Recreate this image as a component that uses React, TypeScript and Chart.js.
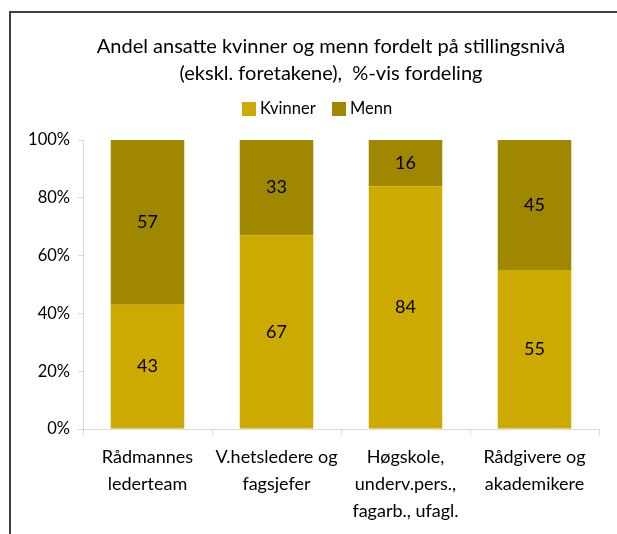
import React, { useEffect, useRef } from "react";
import { Chart, registerables } from "chart.js";

Chart.register(...registerables);

const categories: string[][] = [
  ["Rådmannes", "lederteam"],
  ["V.hetsledere og", "fagsjefer"],
  ["Høgskole,", "underv.pers.,", "fagarb., ufagl."],
  ["Rådgivere og", "akademikere"],
];
const kvinner: number[] = [43, 67, 84, 55];
const menn: number[] = [57, 33, 16, 45];
const yTicks: number[] = [0, 20, 40, 60, 80, 100];
const titleLines: string[] = [
  "Andel ansatte kvinner og menn fordelt på stillingsnivå",
  "(ekskl. foretakene),  %-vis fordeling",
];
const seriesNames: string[] = ["Kvinner", "Menn"];
const seriesColors: string[] = ["#CCAA00", "#9F8700"];

const FONT = "Lato, 'Open Sans', sans-serif";

const valueLabels = {
  id: "valueLabels",
  afterDatasetsDraw(chart: any) {
    const ctx = chart.ctx;
    ctx.save();
    ctx.font = `18px ${FONT}`;
    ctx.fillStyle = "#000";
    ctx.textAlign = "center";
    ctx.textBaseline = "middle";
    chart.data.datasets.forEach((ds: any, i: number) => {
      const meta = chart.getDatasetMeta(i);
      meta.data.forEach((bar: any, j: number) => {
        const { x, y, base } = bar.getProps(["x", "y", "base"], true);
        ctx.fillText(String(ds.data[j]), x, (y + base) / 2);
      });
    });
    ctx.restore();
  },
};

const titleLegend = {
  id: "titleLegend",
  afterDraw(chart: any) {
    const ctx = chart.ctx;
    ctx.save();
    ctx.fillStyle = "#000";
    ctx.textBaseline = "middle";
    ctx.textAlign = "center";
    ctx.font = `20px ${FONT}`;
    titleLines.forEach((t, i) => ctx.fillText(t, 331, 47 + i * 27));
    // legend
    ctx.font = `16.5px ${FONT}`;
    ctx.textAlign = "left";
    const boxXs = [242, 332];
    seriesNames.forEach((n, i) => {
      ctx.fillStyle = seriesColors[i];
      ctx.fillRect(boxXs[i], 102, 14, 14);
      ctx.fillStyle = "#000";
      ctx.fillText(n, boxXs[i] + 18, 109);
    });
    ctx.restore();
  },
};

export default function App() {
  const ref = useRef<HTMLCanvasElement | null>(null);
  useEffect(() => {
    if (!ref.current) return;
    const chart = new Chart(ref.current, {
      type: "bar",
      data: {
        labels: categories,
        datasets: seriesNames.map((n, i) => ({
          label: n,
          data: i === 0 ? kvinner : menn,
          backgroundColor: seriesColors[i],
          barPercentage: 0.57,
          categoryPercentage: 1,
        })),
      },
      options: {
        animation: false,
        responsive: false,
        maintainAspectRatio: false,
        layout: { padding: { left: 0, right: 18, top: 140, bottom: 0 } },
        plugins: {
          title: { display: false },
          legend: { display: false },
          tooltip: { enabled: false },
        },
        scales: {
          x: {
            stacked: true,
            grid: { drawOnChartArea: false, drawTicks: true, tickLength: 6, color: "#d9d9d9", offset: true },
            border: { display: true, color: "#d9d9d9" },
            ticks: {
              color: "#000",
              font: { family: FONT, size: 18, lineHeight: 1.5 },
              maxRotation: 0,
              autoSkip: false,
              padding: 9,
            },
            afterFit: (s: any) => { s.height = 105; },
          },
          y: {
            stacked: true,
            min: 0,
            max: 100,
            afterBuildTicks: (s: any) => { s.ticks = yTicks.map((v) => ({ value: v })); },
            grid: { drawOnChartArea: false, drawTicks: true, tickLength: 5, color: "#d9d9d9" },
            border: { display: true, color: "#d9d9d9" },
            ticks: {
              color: "#000",
              font: { family: FONT, size: 16.5 },
              padding: 8,
              callback: (v: any) => `${v}%`,
            },
            afterFit: (s: any) => { s.width = 83; },
          },
        },
      },
      plugins: [valueLabels, titleLegend],
    });
    return () => chart.destroy();
  }, []);
  return (
    <>
      <div
        style={{
          position: "fixed",
          left: 9,
          top: 11,
          right: -10,
          bottom: -10,
          borderTop: "2px solid #404040",
          borderLeft: "2px solid #404040",
          background: "#fff",
        }}
      />
      <canvas
        ref={ref}
        width={617}
        height={534}
        style={{ position: "fixed", left: 0, top: 0, width: 617, height: 534 }}
      />
    </>
  );
}
